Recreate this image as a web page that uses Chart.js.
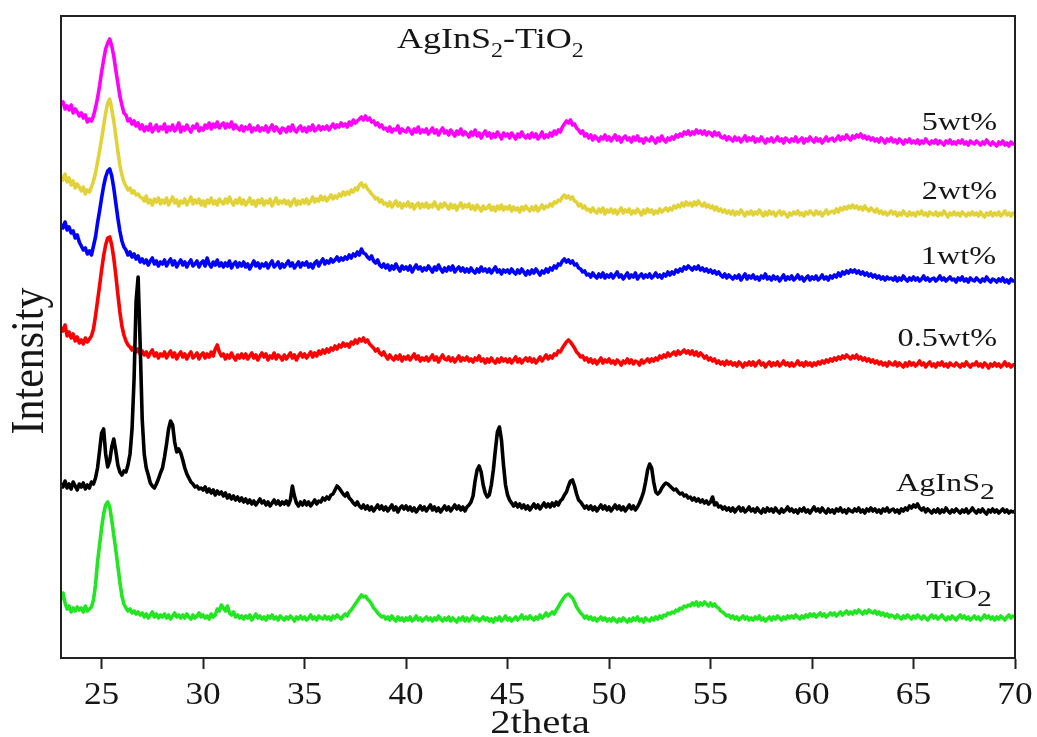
<!DOCTYPE html>
<html>
<head>
<meta charset="utf-8">
<title>AgInS2-TiO2 XRD</title>
<script src="https://cdn.jsdelivr.net/npm/chart.js@4.4.1/dist/chart.umd.min.js"></script>
<style>
  html, body { margin: 0; padding: 0; background: #ffffff; }
  canvas { display: block; }
  .fontwarm { position: absolute; left: -9999px; top: 0; font-family: "Liberation Serif"; }
</style>
</head>
<body>
<span class="fontwarm">AgInS 2theta Intensity 0123456789 wt%</span>
<canvas id="xrd" width="1037" height="737"></canvas>
<script>
// 2theta scan grid (degrees), 0.1 deg step
const twoTheta = [
23.0,23.1,23.2,23.3,23.4,23.5,23.6,23.7,23.8,23.9,
24.0,24.1,24.2,24.3,24.4,24.5,24.6,24.7,24.8,24.9,
25.0,25.1,25.2,25.3,25.4,25.5,25.6,25.7,25.8,25.9,
26.0,26.1,26.2,26.3,26.4,26.5,26.6,26.7,26.8,26.9,
27.0,27.1,27.2,27.3,27.4,27.5,27.6,27.7,27.8,27.9,
28.0,28.1,28.2,28.3,28.4,28.5,28.6,28.7,28.8,28.9,
29.0,29.1,29.2,29.3,29.4,29.5,29.6,29.7,29.8,29.9,
30.0,30.1,30.2,30.3,30.4,30.5,30.6,30.7,30.8,30.9,
31.0,31.1,31.2,31.3,31.4,31.5,31.6,31.7,31.8,31.9,
32.0,32.1,32.2,32.3,32.4,32.5,32.6,32.7,32.8,32.9,
33.0,33.1,33.2,33.3,33.4,33.5,33.6,33.7,33.8,33.9,
34.0,34.1,34.2,34.3,34.4,34.5,34.6,34.7,34.8,34.9,
35.0,35.1,35.2,35.3,35.4,35.5,35.6,35.7,35.8,35.9,
36.0,36.1,36.2,36.3,36.4,36.5,36.6,36.7,36.8,36.9,
37.0,37.1,37.2,37.3,37.4,37.5,37.6,37.7,37.8,37.9,
38.0,38.1,38.2,38.3,38.4,38.5,38.6,38.7,38.8,38.9,
39.0,39.1,39.2,39.3,39.4,39.5,39.6,39.7,39.8,39.9,
40.0,40.1,40.2,40.3,40.4,40.5,40.6,40.7,40.8,40.9,
41.0,41.1,41.2,41.3,41.4,41.5,41.6,41.7,41.8,41.9,
42.0,42.1,42.2,42.3,42.4,42.5,42.6,42.7,42.8,42.9,
43.0,43.1,43.2,43.3,43.4,43.5,43.6,43.7,43.8,43.9,
44.0,44.1,44.2,44.3,44.4,44.5,44.6,44.7,44.8,44.9,
45.0,45.1,45.2,45.3,45.4,45.5,45.6,45.7,45.8,45.9,
46.0,46.1,46.2,46.3,46.4,46.5,46.6,46.7,46.8,46.9,
47.0,47.1,47.2,47.3,47.4,47.5,47.6,47.7,47.8,47.9,
48.0,48.1,48.2,48.3,48.4,48.5,48.6,48.7,48.8,48.9,
49.0,49.1,49.2,49.3,49.4,49.5,49.6,49.7,49.8,49.9,
50.0,50.1,50.2,50.3,50.4,50.5,50.6,50.7,50.8,50.9,
51.0,51.1,51.2,51.3,51.4,51.5,51.6,51.7,51.8,51.9,
52.0,52.1,52.2,52.3,52.4,52.5,52.6,52.7,52.8,52.9,
53.0,53.1,53.2,53.3,53.4,53.5,53.6,53.7,53.8,53.9,
54.0,54.1,54.2,54.3,54.4,54.5,54.6,54.7,54.8,54.9,
55.0,55.1,55.2,55.3,55.4,55.5,55.6,55.7,55.8,55.9,
56.0,56.1,56.2,56.3,56.4,56.5,56.6,56.7,56.8,56.9,
57.0,57.1,57.2,57.3,57.4,57.5,57.6,57.7,57.8,57.9,
58.0,58.1,58.2,58.3,58.4,58.5,58.6,58.7,58.8,58.9,
59.0,59.1,59.2,59.3,59.4,59.5,59.6,59.7,59.8,59.9,
60.0,60.1,60.2,60.3,60.4,60.5,60.6,60.7,60.8,60.9,
61.0,61.1,61.2,61.3,61.4,61.5,61.6,61.7,61.8,61.9,
62.0,62.1,62.2,62.3,62.4,62.5,62.6,62.7,62.8,62.9,
63.0,63.1,63.2,63.3,63.4,63.5,63.6,63.7,63.8,63.9,
64.0,64.1,64.2,64.3,64.4,64.5,64.6,64.7,64.8,64.9,
65.0,65.1,65.2,65.3,65.4,65.5,65.6,65.7,65.8,65.9,
66.0,66.1,66.2,66.3,66.4,66.5,66.6,66.7,66.8,66.9,
67.0,67.1,67.2,67.3,67.4,67.5,67.6,67.7,67.8,67.9,
68.0,68.1,68.2,68.3,68.4,68.5,68.6,68.7,68.8,68.9,
69.0,69.1,69.2,69.3,69.4,69.5,69.6,69.7,69.8,69.9,
70.0
];

// Stacked patterns (arbitrary intensity units, offset per sample)
const wt5 = [
553,556,549,552,548,553,545,549,546,542,
545,540,543,536,539,537,542,550,560,572,
586,598,609,615,619,612,602,588,575,562,
553,545,543,537,539,534,537,532,535,529,
533,527,531,528,534,526,530,533,527,531,
529,534,526,531,528,533,527,530,535,526,
531,528,533,529,526,532,530,534,527,530,
528,533,530,535,529,534,531,536,530,533,
535,530,534,531,536,529,533,530,528,532,
527,531,529,533,526,530,528,532,527,530,
528,532,526,530,533,527,531,528,525,530,
529,526,531,527,533,528,526,530,532,527,
530,526,531,528,533,527,529,532,528,531,
529,532,528,531,534,530,533,531,535,532,
534,531,536,533,538,535,537,539,541,538,
542,538,540,536,537,533,535,531,533,529,
530,527,531,526,529,528,532,525,529,527,
526,530,527,524,529,526,531,525,528,526,
529,524,527,530,525,528,523,527,530,525,
527,523,528,525,522,527,524,529,523,526,
524,521,526,523,528,522,525,520,524,527,
522,525,520,524,521,526,523,519,525,522,
524,520,525,522,519,524,521,526,522,520,
523,520,525,521,524,519,522,526,520,523,
521,525,522,527,524,528,526,531,534,537,
535,538,533,534,530,528,525,527,522,524,
520,523,518,522,520,517,521,519,523,518,
521,517,520,523,518,521,516,520,522,518,
520,516,521,518,522,517,519,515,520,518,
517,521,518,515,520,517,522,518,516,520,
518,521,519,523,521,524,522,526,524,527,
523,526,524,528,525,527,524,527,523,526,
525,522,526,523,525,521,520,522,518,521,
519,517,521,518,520,516,519,522,517,520,
518,521,516,519,517,521,518,515,519,517,
520,516,518,521,517,519,515,520,518,516,
519,517,521,516,518,520,515,519,517,521,
518,516,520,517,519,515,518,521,517,519,
520,517,519,522,518,521,519,523,520,518,
522,520,523,521,524,520,522,519,521,518,
520,517,519,516,520,518,515,519,517,520,
516,518,515,519,517,514,518,516,519,515,
517,515,518,514,517,515,519,516,514,517,
515,518,514,517,515,513,517,515,518,514,
516,514,517,515,518,514,516,513,517,515,
514,517,515,513,516,514,518,515,513,516,
514,512,516,514,517,513,515,512,516,514,
514
];

const wt2 = [
482,478,484,476,480,473,477,470,474,471,
467,471,464,468,466,471,477,485,496,507,
519,532,545,555,559,549,537,522,507,493,
483,476,472,468,470,465,467,463,464,461,
460,457,462,455,458,453,459,456,460,454,
458,455,460,453,457,461,455,458,452,457,
455,459,453,457,461,454,458,455,459,453,
457,452,458,455,460,454,457,453,459,456,
454,459,455,461,456,453,458,455,460,454,
458,453,456,460,454,457,452,458,455,459,
453,457,455,459,452,456,460,454,457,455,
458,454,457,452,456,459,453,457,454,458,
455,459,454,457,461,456,459,457,462,458,
461,457,460,463,459,462,460,464,462,466,
463,466,464,468,466,470,468,473,475,471,
473,469,467,464,462,459,460,456,458,454,
455,452,456,451,454,457,452,455,450,454,
452,456,451,454,449,453,455,450,454,451,
455,450,453,451,456,452,449,454,451,455,
452,449,454,450,453,448,452,455,450,453,
451,454,449,452,448,453,450,447,452,449,
450,453,448,451,447,452,449,453,448,451,
449,452,447,451,448,450,446,451,448,452,
449,447,451,448,452,447,450,453,449,452,
451,454,452,456,455,458,457,461,463,460,
462,459,461,457,456,452,454,450,452,448,
449,446,450,447,445,449,446,450,444,448,
446,449,445,448,444,447,450,445,448,446,
449,444,447,445,449,446,443,448,445,449,
446,448,444,447,445,449,446,448,450,447,
450,448,452,450,453,451,455,452,456,453,
455,452,456,453,457,454,452,455,451,453,
450,452,448,451,447,449,446,448,445,447,
444,447,443,446,444,448,445,442,446,444,
447,443,446,444,448,445,442,446,443,447,
444,446,442,445,447,443,446,444,441,445,
443,446,444,447,443,445,442,446,444,447,
445,443,447,444,446,442,445,448,444,446,
447,445,449,446,450,448,451,449,452,450,
453,450,452,449,451,448,452,449,447,450,
448,446,449,445,447,444,446,443,445,447,
444,446,442,445,443,447,444,442,446,443,
445,442,446,444,447,443,445,442,446,444,
443,446,442,445,443,447,444,441,445,443,
446,443,445,442,446,444,442,445,443,446,
443,445,442,446,443,441,445,443,446,442,
445,443,446,442,444,447,443,445,442,445,
444
];

const wt1 = [
434,430,436,428,431,425,427,420,423,416,
412,408,410,404,407,403,412,421,435,447,
460,472,481,487,489,482,470,455,440,427,
417,411,408,403,406,401,404,399,402,396,
399,395,398,393,397,400,394,397,392,396,
394,398,392,396,399,393,397,391,395,398,
393,396,391,395,398,392,394,397,391,395,
397,392,400,394,391,396,393,398,392,395,
391,395,392,397,390,394,396,391,395,392,
396,391,394,389,393,397,392,395,390,394,
392,395,390,394,397,391,393,396,390,394,
391,394,397,392,395,390,393,396,391,395,
393,396,391,394,390,395,397,392,396,399,
394,397,395,399,396,398,401,397,400,398,
401,399,403,400,404,402,406,403,409,405,
404,401,399,402,397,395,398,393,391,394,
390,393,388,392,389,394,390,387,392,389,
391,388,392,386,390,393,389,391,387,390,
388,392,389,386,391,388,393,389,386,390,
387,391,388,392,386,389,391,387,390,386,
389,386,390,387,385,389,386,391,387,389,
386,389,385,388,391,386,388,384,388,386,
388,385,389,386,384,388,385,389,386,383,
387,384,388,385,389,386,383,387,385,389,
386,390,388,392,390,394,393,397,399,396,
398,395,397,393,394,390,389,386,387,383,
384,381,385,382,380,384,381,385,380,383,
381,384,380,383,386,381,383,379,382,385,
380,383,381,385,379,382,384,380,383,381,
384,380,382,385,381,383,380,384,382,386,
383,386,384,388,386,389,387,391,389,392,
390,388,391,389,392,388,390,387,389,386,
388,385,387,384,386,383,381,384,380,383,
381,379,382,380,383,378,381,384,379,382,
380,383,379,381,378,382,380,384,379,381,
378,382,379,381,377,380,383,378,381,379,
382,378,380,383,379,381,377,380,382,378,
381,379,382,378,380,383,379,381,378,382,
380,383,381,385,382,386,384,387,385,388,
386,388,385,387,384,386,383,385,382,384,
381,383,380,382,379,381,378,381,379,380,
378,381,377,380,378,382,379,377,380,378,
381,378,380,377,379,382,378,380,377,379,
380,377,379,382,378,380,377,379,381,378,
379,376,380,378,381,377,379,376,380,378,
377,380,378,376,379,377,381,378,376,379,
378,376,379,377,380,376,378,375,379,377,
377
];

const wt05 = [
331,327,333,322,326,320,324,317,321,315,
318,314,320,316,319,322,329,342,357,372,
388,402,413,420,421,413,400,383,364,346,
332,323,317,313,311,308,311,306,309,304,
307,303,306,301,305,308,302,305,300,304,
302,306,300,304,307,301,305,299,303,306,
301,304,299,303,306,300,302,305,299,303,
305,300,304,301,306,302,309,313,306,302,
304,299,303,300,305,301,298,303,300,304,
300,304,299,302,305,300,303,298,302,305,
301,304,298,302,300,305,299,303,301,298,
303,299,302,305,300,303,298,302,305,301,
304,300,303,306,301,305,302,307,304,308,
305,309,306,310,308,312,309,313,311,315,
312,314,311,316,314,318,315,319,317,320,
316,318,314,312,310,307,309,305,303,306,
302,299,303,300,298,302,299,303,297,301,
299,302,298,301,304,299,302,297,300,298,
301,297,300,303,298,301,296,300,303,299,
298,301,297,300,296,299,302,297,300,298,
301,297,299,296,300,298,302,297,299,295,
299,296,300,297,295,299,296,300,297,299,
296,299,295,298,301,296,299,295,298,300,
297,300,296,299,295,298,301,297,300,303,
299,302,300,304,303,307,306,310,313,316,
318,316,313,310,306,304,301,302,298,300,
296,299,295,298,294,297,300,295,298,296,
299,295,297,294,298,296,293,297,295,299,
295,298,294,297,296,293,298,295,297,299,
296,299,297,300,298,302,300,303,301,305,
302,304,306,303,307,304,306,308,305,307,
304,307,303,306,302,305,303,300,302,298,
300,297,299,295,297,294,296,293,297,294,
296,293,295,292,296,294,291,295,293,296,
293,296,292,295,297,293,295,291,294,296,
292,295,293,296,292,294,297,293,295,292,
295,292,294,297,293,295,292,296,293,295,
292,295,293,296,294,297,295,298,296,299,
297,300,298,301,299,302,300,303,301,299,
302,300,303,299,301,298,300,297,299,296,
298,295,297,294,296,293,295,292,296,294,
293,296,292,295,293,291,295,292,296,293,
295,292,294,297,293,295,291,294,296,292,
294,291,295,293,296,292,294,291,295,293,
292,295,293,291,294,292,296,293,291,294,
293,296,292,294,291,295,293,290,294,292,
295,292,294,291,293,296,292,294,291,293,
294
];

const aginsPattern = [
175,171,177,170,174,169,176,172,168,174,
171,175,169,173,170,176,174,180,190,207,
225,229,204,191,197,211,219,207,193,186,
183,187,186,193,204,229,279,357,381,314,
239,204,190,183,175,172,170,174,179,185,
190,201,214,229,237,233,216,206,209,205,
198,190,184,180,176,174,171,172,169,170,
168,171,166,169,165,168,163,167,164,166,
162,165,160,163,159,162,158,161,157,160,
156,159,155,158,154,157,153,156,159,155,
157,153,156,152,155,158,154,157,153,156,
154,157,153,158,172,162,155,152,156,153,
157,153,156,152,155,158,154,157,156,160,
158,161,159,163,164,168,172,170,167,164,
162,165,160,158,155,153,156,152,150,153,
149,152,148,151,147,150,153,149,152,148,
151,147,150,153,148,151,146,150,152,149,
152,148,151,147,150,146,149,152,148,151,
147,150,153,148,151,147,150,146,149,152,
148,151,147,150,153,149,152,148,151,147,
151,153,156,162,177,188,192,186,173,165,
161,163,173,188,208,226,231,218,193,173,
163,158,155,152,155,151,154,150,153,149,
152,148,151,154,150,153,149,152,155,151,
154,151,155,152,156,153,157,159,163,166,
172,177,178,172,164,158,156,153,150,152,
149,152,148,151,147,150,153,149,152,148,
151,147,150,153,149,152,148,151,147,150,
153,149,152,148,151,155,160,166,176,188,
194,190,176,166,164,166,170,173,175,174,
172,170,168,169,166,164,165,162,163,160,
161,158,160,157,159,156,158,155,157,154,
156,161,153,155,151,152,149,151,148,150,
147,150,146,149,151,147,150,146,148,151,
147,149,146,150,147,145,149,146,150,147,
149,146,150,147,145,149,146,148,151,147,
149,146,148,145,149,147,150,146,148,145,
148,151,147,149,146,150,147,145,149,146,
148,145,149,147,150,146,148,145,149,147,
146,149,147,150,146,148,145,149,147,150,
147,149,146,148,145,149,147,150,146,148,
149,146,148,145,149,147,150,148,152,150,
153,151,154,150,148,150,146,149,147,145,
148,146,149,145,148,146,150,147,145,148,
146,149,147,145,148,146,149,145,147,150,
147,145,148,146,149,146,144,148,146,149,
146,148,145,147,149,146,148,145,147,146,
147
];

const tio2Pattern = [
58,65,55,49,52,46,50,47,51,48,
50,46,52,47,49,51,58,73,96,113,
130,144,153,156,151,138,123,108,92,76,
62,54,50,47,49,45,47,44,46,43,
45,41,44,40,43,46,41,44,40,43,
41,44,40,43,39,42,45,41,43,40,
43,40,44,41,39,43,40,42,45,41,
43,40,42,39,44,41,43,49,47,53,
50,47,52,45,43,46,41,43,40,42,
39,42,40,43,38,41,44,40,42,39,
41,38,42,40,43,39,41,38,42,40,
38,41,39,42,40,37,41,39,42,39,
41,38,40,43,39,41,38,42,40,39,
42,39,41,38,42,40,43,41,39,42,
44,42,46,48,51,54,57,60,63,61,
62,59,57,54,50,48,45,43,41,42,
39,41,38,42,39,37,41,38,40,37,
40,38,41,37,39,42,38,40,37,39,
41,38,40,37,40,38,42,39,37,40,
38,41,37,40,38,36,40,38,41,37,
40,37,39,42,38,40,37,39,41,38,
40,37,39,36,40,38,41,37,39,42,
38,40,37,39,41,38,40,43,39,41,
39,42,40,38,41,39,43,40,42,45,
42,44,46,44,48,51,55,58,61,63,
64,62,60,56,51,48,45,43,40,42,
39,41,38,40,37,39,41,38,40,37,
39,37,40,38,36,39,37,40,38,36,
39,37,40,38,41,37,39,36,40,38,
37,40,38,41,39,42,40,43,42,45,
44,46,45,48,47,50,49,52,51,53,
52,55,53,56,52,55,53,56,54,52,
55,52,54,51,50,47,46,44,42,43,
40,42,39,41,38,40,42,39,41,38,
40,38,41,39,42,38,40,37,39,41,
38,41,39,42,40,38,41,39,42,40,
42,40,43,41,39,42,40,43,41,44,
42,44,41,43,45,42,44,41,43,45,
43,45,42,44,46,43,45,47,44,46,
44,47,45,48,46,44,47,45,48,46,
45,47,44,46,43,45,42,44,41,43,
42,40,43,41,39,42,40,43,41,39,
42,40,43,41,39,42,40,38,41,43,
40,42,39,41,43,40,38,41,39,42,
40,38,41,43,40,42,39,41,38,40,
42,39,41,38,40,43,40,42,39,41,
38,41,39,42,40,38,41,43,40,42,
41
];

// Axis ticks and sample labels ("_" marks a subscript digit)
const xTickValues = [25, 30, 35, 40, 45, 50, 55, 60, 65, 70];
const sampleNames = ['AgInS_2', 'TiO_2', '0.5wt%', '1wt%', '2wt%', '5wt%'];
const sampleSeries = [aginsPattern, tio2Pattern, wt05, wt1, wt2, wt5];
const sampleColors = ['#000000', '#22e622', '#ff0000', '#0000ff', '#e2d23a', '#ff00ff'];
const chartTitle = 'AgInS_2-TiO_2';
const xTitle = '2theta';
const yTitle = 'Intensity';

const FONT = '"Liberation Serif", "Times New Roman", Times, serif';

// split "AbC_2" into normal / subscript runs
function toRuns(text, size, subSize, subShift) {
  const runs = [];
  const parts = text.split('_');
  parts.forEach((p, i) => {
    if (i === 0) { if (p) runs.push({ t: p, size: size, dy: 0 }); return; }
    runs.push({ t: p.charAt(0), size: subSize, dy: subShift });
    if (p.length > 1) runs.push({ t: p.slice(1), size: size, dy: 0 });
  });
  return runs;
}

// draw runs horizontally stretched by sx around anchor (x, y = baseline)
function drawRuns(ctx, runs, x, y, align, sx) {
  ctx.save();
  ctx.translate(x, y);
  ctx.scale(sx, 1);
  ctx.textAlign = 'left';
  ctx.textBaseline = 'alphabetic';
  let w = 0;
  runs.forEach(r => { ctx.font = r.size + 'px ' + FONT; w += ctx.measureText(r.t).width; });
  let cx = align === 'right' ? -w : (align === 'center' ? -w / 2 : 0);
  runs.forEach(r => {
    ctx.font = r.size + 'px ' + FONT;
    ctx.fillText(r.t, cx, r.dy);
    cx += ctx.measureText(r.t).width;
  });
  ctx.restore();
}

const labelLayout = {
  'AgInS_2': { x: 995, y: 491 },
  'TiO_2':   { x: 992, y: 598 },
  '0.5wt%':  { x: 997, y: 346 },
  '1wt%':    { x: 996, y: 264 },
  '2wt%':    { x: 997, y: 199 },
  '5wt%':    { x: 997, y: 130 }
};

const xrdDecor = {
  id: 'xrdDecor',
  afterDatasetsDraw(chart) {
    const { ctx, chartArea: a } = chart;
    ctx.save();
    ctx.strokeStyle = '#222222';
    ctx.lineWidth = 2;
    ctx.strokeRect(a.left, a.top, a.right - a.left, a.bottom - a.top);
    ctx.restore();
  },
  afterDraw(chart) {
    const { ctx, chartArea: a } = chart;
    const xs = chart.scales.x;
    ctx.save();
    ctx.fillStyle = '#161616';

    // x tick labels
    xTickValues.forEach(v => {
      drawRuns(ctx, [{ t: String(v), size: 31, dy: 0 }], xs.getPixelForValue(v), 704, 'center', 1.14);
    });

    // axis titles
    drawRuns(ctx, [{ t: xTitle, size: 34, dy: 0 }], 540, 733, 'center', 1.2);
    ctx.save();
    ctx.translate(43, (a.top + a.bottom) / 2 + 24);
    ctx.scale(1.1, 1);
    ctx.rotate(-Math.PI / 2);
    drawRuns(ctx, [{ t: yTitle, size: 42, dy: 0 }], 0, 0, 'center', 1.0);
    ctx.restore();

    // title
    drawRuns(ctx, toRuns(chartTitle, 30, 20, 9), 397, 48, 'left', 1.2);

    // sample labels
    sampleNames.forEach(name => {
      const p = labelLayout[name];
      drawRuns(ctx, toRuns(name, 26, 24, 8), p.x, p.y, 'right', 1.24);
    });
    ctx.restore();
  }
};

function buildChart() {
  const datasets = sampleNames.map((name, k) => ({
    label: name.replace('_', ''),
    data: twoTheta.map((t, i) => ({ x: t, y: sampleSeries[k][i] })),
    borderColor: sampleColors[k],
    backgroundColor: sampleColors[k],
    borderWidth: 3.6,
    borderJoinStyle: 'round',
    pointRadius: 0,
    tension: 0,
    fill: false
  }));

  new Chart(document.getElementById('xrd'), {
    type: 'line',
    data: { datasets },
    options: {
      responsive: false,
      devicePixelRatio: 1,
      animation: false,
      parsing: false,
      layout: { padding: { top: 16, right: 22, left: 0, bottom: 0 } },
      plugins: { legend: { display: false }, tooltip: { enabled: false } },
      scales: {
        x: {
          type: 'linear',
          min: 23,
          max: 70,
          afterBuildTicks: s => { s.ticks = xTickValues.map(v => ({ value: v })); },
          afterFit: s => { s.height = 79; },
          ticks: { display: false },
          grid: {
            display: true,
            drawOnChartArea: false,
            drawTicks: true,
            tickLength: 11,
            tickWidth: 2,
            tickColor: '#222222',
            color: '#222222'
          },
          border: { display: true, width: 2, color: '#222222' }
        },
        y: {
          type: 'linear',
          min: 0,
          max: 642,
          afterFit: s => { s.width = 61; },
          ticks: { display: false },
          grid: { display: false },
          border: { display: true, width: 2, color: '#222222' }
        }
      }
    },
    plugins: [xrdDecor]
  });
}

let built = false;
function startOnce() { if (!built) { built = true; buildChart(); } }
if (document.fonts && document.fonts.load) {
  document.fonts.load('30px "Liberation Serif"').then(startOnce, startOnce);
  setTimeout(startOnce, 400);
} else {
  startOnce();
}
</script>
</body>
</html>
